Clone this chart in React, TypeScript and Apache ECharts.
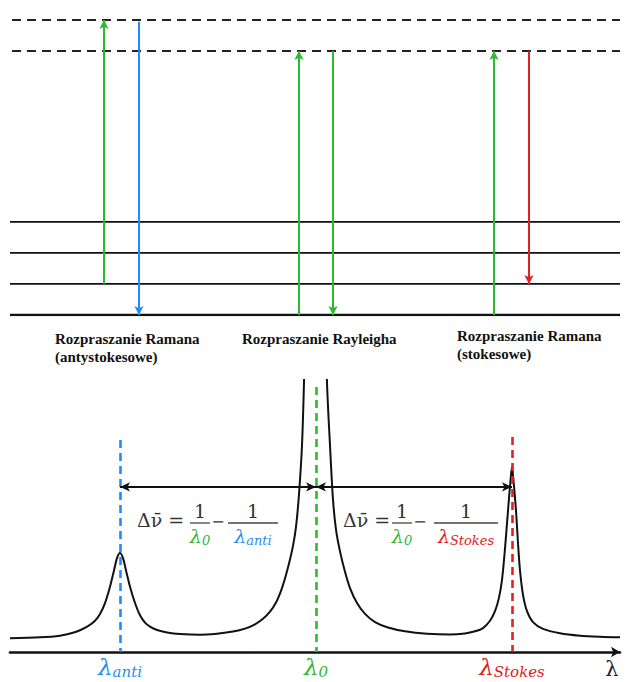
import React, { useEffect, useRef } from "react";
import * as echarts from "echarts";

// ---------- Energy diagram data ----------
const VIB_LEVELS = [0, 1, 2, 3]; // ground + vibrational levels
const VIRTUAL_LEVELS = [8.5, 9.5]; // virtual levels (dashed)
const TRANS_X = [104, 139, 299, 333, 494, 529];
const TRANS_FROM = [1, 9.44, 0, 8.5, 0, 8.5];
const TRANS_TO = [9.5, 0, 8.5, 0, 8.5, 1];
const TRANS_COLOR = ["g", "b", "g", "g", "g", "r"];
const PROCESS_LABELS = [
  "Rozpraszanie Ramana\n(antystokesowe)",
  "Rozpraszanie Rayleigha",
  "Rozpraszanie Ramana\n(stokesowe)",
];

// ---------- Spectrum data ----------
const SPEC_X = [10, 40, 60, 72, 80, 88, 95, 100, 105, 110, 114, 117, 120, 123, 126, 130, 135, 140, 145, 150, 157, 167, 180, 200, 215, 233, 245, 255, 263, 270, 276, 281, 285, 289, 293, 296, 299, 302, 304, 316, 327, 330, 333, 336, 340, 345, 350, 357, 365, 375, 388, 405, 427, 450, 465, 475, 483, 490, 495, 499, 502, 505, 508, 510.5, 512, 513.5, 516, 518, 520, 523, 527, 533, 543, 560, 580, 600, 620];
const SPEC_Y = [5.1, 5.4, 6.0, 7.0, 8.0, 9.5, 11.5, 14, 18, 24, 30, 34.5, 36.4, 34.5, 30, 24, 18, 13.5, 10.8, 9.3, 8.1, 7.2, 6.6, 6.3, 6.6, 7.5, 8.6, 10.2, 12.2, 14.8, 18.2, 22.5, 27, 32.5, 39, 46, 58, 76, 99.3, 260, 99.3, 76, 56, 45, 37, 29.5, 23.5, 18, 14, 11, 9, 7.6, 6.7, 6.4, 6.8, 7.6, 8.8, 11.5, 15, 20, 26.5, 38, 52, 63, 68, 63, 52, 40, 30, 21, 15, 11, 8.5, 6.9, 6.0, 5.6, 5.4];
const PEAK_POS = [120, 316, 512];
const PEAK_SUB = ["anti", "0", "Stokes"];
const PEAK_COLOR = ["b", "g", "r"];
const PEAK_LINE_TOP = [77.9, 97.4, 79.0];
const SHIFT_ARROW_Y = 60.7;

const COLORS: Record<string, string> = { g: "#2dbb2d", b: "#1e8cff", r: "#dd2222" };
const TXT: Record<string, string> = { g: "#33b633", b: "#2a8cf0", r: "#e02020" };

const MATH_FONT = "DejaVu Serif";
const LABEL_FONT = "Liberation Serif";

function fraction(cx: number, num: string, den: string, denColor: string, barW: number, y0: number) {
  return [
    { type: "text", style: { text: num, x: cx, y: y0 - 11, align: "center", verticalAlign: "middle", fontFamily: MATH_FONT, fontSize: 19, fill: "#333" } },
    { type: "line", shape: { x1: cx - barW / 2, y1: y0 + 1, x2: cx + barW / 2, y2: y0 + 1 }, style: { stroke: "#444", lineWidth: 1.3 } },
    {
      type: "text",
      style: {
        text: `{l|λ}{s|${den}}`,
        x: cx,
        y: y0 + 14,
        align: "center",
        verticalAlign: "middle",
        rich: {
          l: { fontFamily: MATH_FONT, fontSize: 19, fontStyle: "italic", fill: denColor, color: denColor },
          s: { fontFamily: MATH_FONT, fontSize: 13, fontStyle: "italic", fill: denColor, color: denColor, padding: [8, 0, 0, 0] },
        },
      },
    },
  ];
}

function formula(x0: number, f1: number, f2: number, minusX: number, sub: string, subColor: string, bar2: number) {
  const y0 = 522;
  return [
    { type: "text", style: { text: "Δν̄ =", x: x0, y: y0 - 2, align: "left", verticalAlign: "middle", fontFamily: MATH_FONT, fontSize: 19, fill: "#333" } },
    ...fraction(f1, "1", "0", TXT.g, 20, y0),
    { type: "text", style: { text: "−", x: minusX, y: y0 - 1, align: "center", verticalAlign: "middle", fontFamily: MATH_FONT, fontSize: 16, fill: "#333" } },
    ...fraction(f2, "1", sub, subColor, bar2, y0),
  ];
}

export default function App() {
  const ref = useRef<HTMLDivElement>(null);
  useEffect(() => {
    if (!ref.current) return;
    const chart = echarts.init(ref.current, null, { renderer: "svg" });

    const levelSeries = [...VIB_LEVELS, ...VIRTUAL_LEVELS].map((lv) => {
      const dashed = VIRTUAL_LEVELS.includes(lv);
      return {
        type: "line",
        xAxisIndex: 0,
        yAxisIndex: 0,
        data: [[dashed ? 12 : 10, lv], [620, lv]],
        symbol: "none",
        silent: true,
        lineStyle: {
          color: dashed ? "#222" : "#111",
          width: lv === 0 ? 2.6 : dashed ? 2 : 1.8,
          type: dashed ? [9, 6] : "solid",
        },
        z: 1,
      };
    });

    const transitions = {
      type: "line",
      xAxisIndex: 0,
      yAxisIndex: 0,
      data: [],
      silent: true,
      markLine: {
        silent: true,
        animation: false,
        symbol: ["none", "arrow"],
        symbolSize: [7, 9],
        label: { show: false },
        data: TRANS_X.map((x, i) => [
          { coord: [x, TRANS_FROM[i]], lineStyle: { color: COLORS[TRANS_COLOR[i]], width: 2, type: "solid" } },
          { coord: [x, TRANS_TO[i]] },
        ]),
      },
      z: 3,
    };

    const spectrum = {
      type: "line",
      xAxisIndex: 1,
      yAxisIndex: 1,
      data: SPEC_X.map((x, i) => [x, SPEC_Y[i]]),
      symbol: "none",
      smooth: 0.3,
      clip: true,
      silent: true,
      lineStyle: { color: "#111", width: 2 },
      z: 3,
      markLine: {
        silent: true,
        animation: false,
        symbol: ["none", "none"],
        label: { show: false },
        data: [
          ...PEAK_POS.map((x, i) => [
            { coord: [x, PEAK_LINE_TOP[i]], lineStyle: { color: COLORS[PEAK_COLOR[i]], width: 2.6, type: [8, 5] } },
            { coord: [x, 0] },
          ]),
          [
            { coord: [PEAK_POS[0], SHIFT_ARROW_Y], symbol: "arrow", symbolSize: [7, 10], lineStyle: { color: "#111", width: 2, type: "solid" } },
            { coord: [PEAK_POS[1], SHIFT_ARROW_Y], symbol: "arrow", symbolSize: [7, 10] },
          ],
          [
            { coord: [PEAK_POS[1], SHIFT_ARROW_Y], symbol: "arrow", symbolSize: [7, 10], lineStyle: { color: "#111", width: 2, type: "solid" } },
            { coord: [PEAK_POS[2], SHIFT_ARROW_Y], symbol: "arrow", symbolSize: [7, 10] },
          ],
        ],
      },
    };

    const rich: any = {};
    PEAK_COLOR.forEach((c, i) => {
      rich["l" + i] = { color: TXT[c], fontFamily: MATH_FONT, fontSize: 23, fontStyle: "italic" };
      rich["s" + i] = { color: TXT[c], fontFamily: MATH_FONT, fontSize: 15, fontStyle: "italic", padding: [10, 0, 0, 0] };
    });

    const labelGraphics = [
      { x: 55, y: 330 },
      { x: 242, y: 330 },
      { x: 457, y: 327 },
    ].map((p, i) => ({
      type: "text",
      style: {
        text: PROCESS_LABELS[i],
        x: p.x,
        y: p.y,
        fontFamily: LABEL_FONT,
        fontWeight: "bold",
        fontSize: 15,
        fill: "#111",
        lineHeight: 18,
        align: "left",
        verticalAlign: "top",
      },
    }));

    chart.setOption({
      animation: false,
      backgroundColor: "#ffffff",
      grid: [
        { left: 10, right: 5, top: 20, height: 295 },
        { left: 10, right: 5, top: 380, height: 272 },
      ],
      xAxis: [
        { gridIndex: 0, type: "value", min: 10, max: 620, show: false },
        {
          gridIndex: 1,
          type: "value",
          min: 10,
          max: 620,
          splitLine: { show: false },
          axisTick: { show: false },
          axisLine: { show: true, lineStyle: { color: "#111", width: 2.6 }, symbol: ["none", "arrow"], symbolSize: [8, 9] },
          name: "λ",
          nameLocation: "end",
          nameGap: -8,
          nameTextStyle: { fontFamily: MATH_FONT, fontSize: 21, color: "#222", align: "center", verticalAlign: "top", padding: [6, 0, 0, 0] },
          axisLabel: {
            customValues: PEAK_POS,
            margin: 2,
            formatter: (v: number) => {
              const i = PEAK_POS.indexOf(v);
              return i < 0 ? "" : `{l${i}|λ}{s${i}|${PEAK_SUB[i]}}`;
            },
            rich,
          },
        },
      ],
      yAxis: [
        { gridIndex: 0, type: "value", min: 0, max: 9.5, show: false },
        { gridIndex: 1, type: "value", min: 0, max: 100, show: false },
      ],
      series: [...levelSeries, transitions, spectrum],
      graphic: [
        ...labelGraphics,
        ...formula(137, 200, 253, 218, "anti", TXT.b, 50),
        ...formula(343, 402, 466, 420, "Stokes", TXT.r, 64),
      ],
    } as any);

    return () => chart.dispose();
  }, []);

  return <div ref={ref} style={{ position: "fixed", left: 0, top: 0, width: 625, height: 682 }} />;
}
